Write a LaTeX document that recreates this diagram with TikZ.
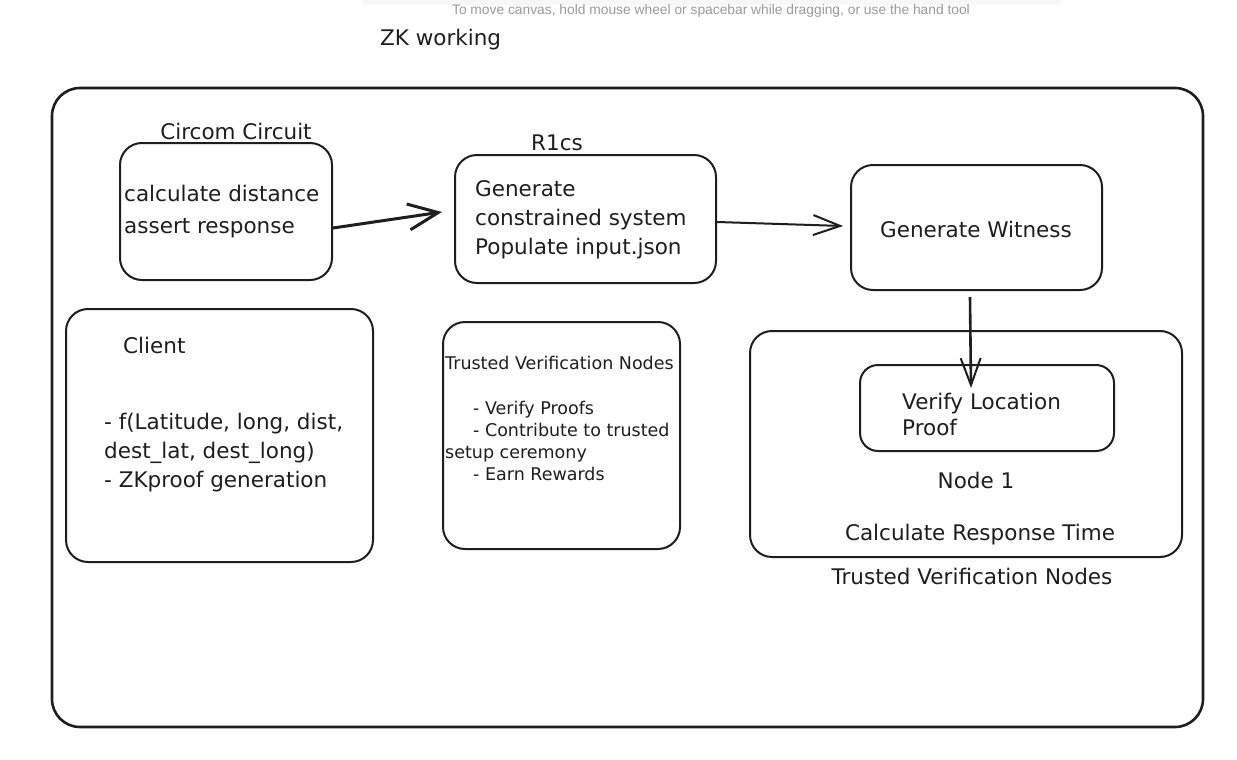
\documentclass[tikz,border=0pt]{standalone}
\usepackage{fontspec}
\setmainfont{DejaVu Sans}
\newfontfamily\hintfont{Liberation Sans}
\usetikzlibrary{arrows.meta}
\definecolor{hintgray}{HTML}{9A9A9A}
\definecolor{bandgray}{HTML}{F7F7F7}
\definecolor{ink}{HTML}{1E1E1E}
\tikzset{
  box/.style={draw=ink, line width=2pt, rounded corners=22pt},
  txt/.style={text=ink, inner sep=0pt, font=\fontsize{21.5}{29}\selectfont},
  smalltxt/.style={text=ink, inner sep=0pt, font=\fontsize{17.5}{22}\selectfont},
  link/.style={draw=ink, line width=2pt, -{Straight Barb[length=27pt, width=20pt, line width=2pt]}},
}
\begin{document}
\begin{tikzpicture}[x=1pt,y=-1pt]
\useasboundingbox (0,0) rectangle (1237,760);
\fill[white] (0,0) rectangle (1237,760);
\fill[bandgray] (363,0) rectangle (1060,5);
\node[inner sep=0pt, text=hintgray, font=\hintfont\fontsize{13.8}{15}\selectfont] (hint) at (711,11) {To move canvas, hold mouse wheel or spacebar while dragging, or use the hand tool};
\node[txt, anchor=west] (title) at (380,40) {ZK working};

% outer frame
\draw[box, line width=2.6pt, rounded corners=28pt] (52,88) rectangle (1203,727);

% Circom circuit
\node[txt] (circomlbl) at (236,131) {Circom Circuit};
\draw[box] (120,143) rectangle (332,280);
\coordinate (circomR) at (333,228);
\node[txt, anchor=west, align=left, font=\fontsize{21.5}{32}\selectfont] (circomtxt) at (124,212) {calculate distance\\assert response};

% R1cs
\node[txt] (r1cslbl) at (557,143) {R1cs};
\draw[box] (455,155) rectangle (716,283);
\coordinate (r1csL) at (442,212);
\coordinate (r1csR) at (717,222);
\node[txt, anchor=west, align=left] (r1cstxt) at (475,220) {Generate\\constrained system\\Populate input.json};

% Generate witness
\draw[box] (851,165) rectangle (1102,290);
\coordinate (witL) at (843,226);
\coordinate (witB) at (970,297);
\node[txt] (wittxt) at (976,229) {Generate Witness};

% Client
\draw[box] (66,309) rectangle (373,562);
\node[txt, anchor=west] (clientlbl) at (123,345) {Client};
\node[txt, anchor=west, align=left] (clienttxt) at (104,453) {- f(Latitude, long, dist,\\dest\_lat, dest\_long)\\- ZKproof generation};

% Middle trusted nodes
\draw[box] (443,322) rectangle (680,549);
\node[smalltxt, anchor=west] (tvnlbl) at (445,363) {Trusted Verification Nodes};
\node[smalltxt, anchor=west, align=left] (tvntxt) at (445,441) {\hspace*{28pt}- Verify Proofs\\\hspace*{28pt}- Contribute to trusted\\setup ceremony\\\hspace*{28pt}- Earn Rewards};

% Right trusted nodes group
\draw[box] (750,331) rectangle (1182,557);
\draw[box, rounded corners=18pt] (860,365) rectangle (1114,451);
\coordinate (verT) at (971,388);
\node[txt, anchor=west, align=left, font=\fontsize{21.5}{26}\selectfont] (vertxt) at (902,414) {Verify Location\\Proof};
\node[txt] (node1) at (976,480) {Node 1};
\node[txt] (resp) at (980,535) {Calculate Response Time};
\node[txt] (tvnright) at (972,576) {Trusted Verification Nodes};

% connectors
\draw[link, line width=3pt, -{Straight Barb[length=30pt, width=26pt, line width=3pt]}] (circomR) -- (r1csL);
\draw[link] (r1csR) -- (witL);
\draw[link, line width=2.6pt] (witB) -- (verT);
\end{tikzpicture}
\end{document}
